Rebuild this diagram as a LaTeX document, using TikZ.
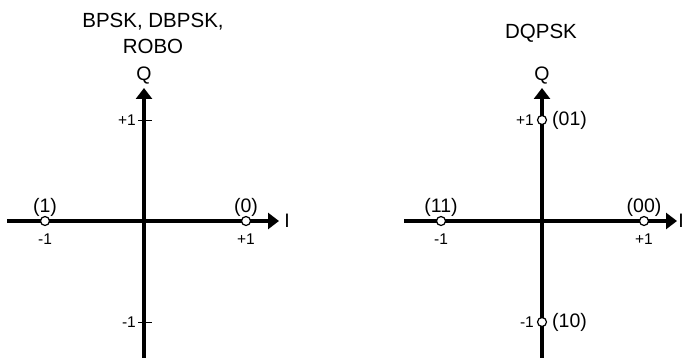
\documentclass[tikz,border=0pt]{standalone}
\usepackage{fontspec}
\setmainfont{Liberation Sans}
\usetikzlibrary{arrows.meta}
\tikzset{
  x=1pt, y=-1pt,
  axis/.style={line width=3.3pt, -{Triangle[length=11pt,width=16pt]}},
  tickmark/.style={line width=0.9pt},
  pt/.style={circle, draw, fill=white, line width=1.2pt, minimum size=9pt, inner sep=0pt},
  ttl/.style={font=\fontsize{20.5}{24}\selectfont, inner sep=0pt},
  lbl/.style={font=\fontsize{19.5}{22}\selectfont, inner sep=0pt},
  sml/.style={font=\fontsize{15.5}{18}\selectfont, inner sep=0pt},
}
\begin{document}
\begin{tikzpicture}
\useasboundingbox (0,0) rectangle (684,358);
% ---------- left panel ----------
\coordinate (Lw) at (7,221);
\coordinate (Le) at (279,221);
\coordinate (Ls) at (144,360);
\coordinate (Ln) at (144,88);
\draw[axis] (Lw) -- (Le);
\draw[axis] (Ls) -- (Ln);
\coordinate (Lt1a) at (138,120); \coordinate (Lt1b) at (152,120);
\coordinate (Lt2a) at (138,322); \coordinate (Lt2b) at (152,322);
\draw[tickmark] (Lt1a) -- (Lt1b);
\draw[tickmark] (Lt2a) -- (Lt2b);
\node[sml, anchor=east] (Lq1) at (136,120) {+1};
\node[sml, anchor=east] (Lq2) at (136,322) {-1};
\node[pt] (Lp1) at (45,221) {};
\node[pt] (Lp0) at (246,221) {};
\node[lbl] (Ll1) at (45,207) {(1)};
\node[lbl] (Ll0) at (246,207) {(0)};
\node[sml] (Lm1) at (45,239) {-1};
\node[sml] (Lm0) at (246,239) {+1};
\node[lbl] (LI) at (287,221) {I};
\node[lbl] (LQ) at (144,76) {Q};
\node[ttl] (Lt1) at (153,22) {BPSK, DBPSK,};
\node[ttl] (Lt2) at (153,46) {ROBO};
% ---------- right panel ----------
\coordinate (Rw) at (404,221);
\coordinate (Re) at (677,221);
\coordinate (Rs) at (542,360);
\coordinate (Rn) at (542,88);
\draw[axis] (Rw) -- (Re);
\draw[axis] (Rs) -- (Rn);
\node[pt] (R11) at (441,221) {};
\node[pt] (R00) at (644,221) {};
\node[pt] (R01) at (542,120) {};
\node[pt] (R10) at (542,322) {};
\node[lbl] (Rl11) at (441,207) {(11)};
\node[lbl] (Rl00) at (644,207) {(00)};
\node[sml] (Rm11) at (441,239) {-1};
\node[sml] (Rm00) at (644,239) {+1};
\node[lbl, anchor=west] (Rl01) at (552,120) {(01)};
\node[lbl, anchor=west] (Rl10) at (552,322) {(10)};
\node[sml, anchor=east] (Rq1) at (534,120) {+1};
\node[sml, anchor=east] (Rq2) at (534,322) {-1};
\node[lbl] (RI) at (681,221) {I};
\node[lbl] (RQ) at (542,76) {Q};
\node[ttl] (Rt) at (541,33) {DQPSK};
\end{tikzpicture}
\end{document}
